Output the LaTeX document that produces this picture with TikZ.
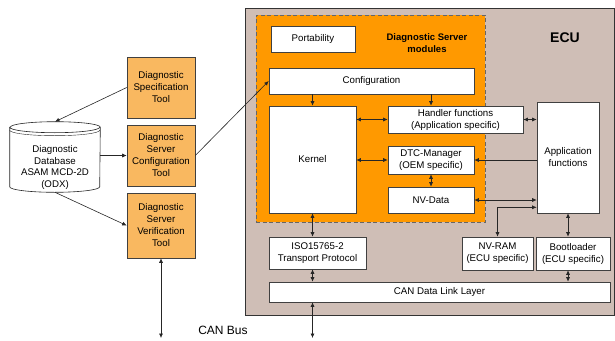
\documentclass[tikz,border=0pt]{standalone}
\usepackage{fontspec}
\setmainfont{Liberation Sans}
\usetikzlibrary{arrows.meta}
\definecolor{ecubrown}{RGB}{207,190,182}
\definecolor{modorange}{RGB}{255,153,0}
\definecolor{toolorange}{RGB}{249,184,96}

\begin{document}
\begin{tikzpicture}[x=1pt,y=-1pt]
  \tikzset{box/.style = {shape=rectangle,draw=black!75,fill=white,line width=0.6pt,inner sep=1pt,align=center,font=\fontsize{9.7}{12}\selectfont}}
  \tikzset{tool/.style = {box,fill=toolorange}}
  \tikzset{edge/.style = {draw=black!85,line width=0.6pt,> = {Latex[length=4.5pt,width=4pt]}}}
  \useasboundingbox (0,0) rectangle (615,340);

  % ECU and module frame
  \node[box,fill=ecubrown,draw=black!80,line width=0.8pt,minimum width=369,minimum height=307] (ECU) at (429.5,161.5) {};
  \node[box,fill=modorange,draw=black!60,dash pattern=on 4pt off 2.5pt,minimum width=229,minimum height=207] (DSM) at (370.5,118.5) {};
  \node[font=\bfseries\fontsize{9.5}{11.5}\selectfont,align=center] (DSML) at (427,43) {Diagnostic Server\\modules};
  \node[font=\bfseries\fontsize{14}{16}\selectfont] (ECUL) at (565,38) {ECU};

	\node[box,minimum width=84,minimum height=26] (PO) at (313,39) {Portability};
	\node[box,minimum width=205,minimum height=26] (CF) at (371.5,81) {Configuration};
	\node[box,minimum width=87,minimum height=107] (KE) at (312.5,159.5) {Kernel};
	\node[box,minimum width=135,minimum height=27] (HF) at (455.5,119.5) {Handler functions\\(Application specific)};
	\node[box,minimum width=86,minimum height=28] (DTC) at (431,160) {DTC-Manager\\(OEM specific)};
	\node[box,minimum width=86,minimum height=26] (NVD) at (431,200) {NV-Data};
	\node[box,minimum width=62,minimum height=111] (AF) at (568,157.5) {Application\\functions};

	\node[box,minimum width=97,minimum height=32] (ISO) at (317.5,253) {ISO15765-2\\Transport Protocol};
	\node[box,minimum width=71,minimum height=33] (RAM) at (497.5,253.5) {NV-RAM\\(ECU specific)};
	\node[box,minimum width=74,minimum height=33] (BL) at (573,253.5) {Bootloader\\(ECU specific)};
	\node[box,minimum width=341,minimum height=20] (CAN) at (439.5,292) {CAN Data Link Layer};

  % tools
	\node[tool,minimum width=68,minimum height=61] (SPT) at (161,87.5) {Diagnostic\\Specification\\Tool};
	\node[tool,minimum width=68,minimum height=61] (SCT) at (161,155.5) {Diagnostic\\Server\\Configuration\\Tool};
	\node[tool,minimum width=68,minimum height=65] (SVT) at (161,225.5) {Diagnostic\\Server\\Verification\\Tool};

  % database
	\node[box,draw=none,fill=none,minimum width=90,minimum height=70] (DB) at (55,157) {};
	\draw[edge,fill=white] ([yshift=-5.5pt]DB.north west) -- ([yshift=5.5pt]DB.south west)
	  arc[start angle=180,end angle=360,x radius=45pt,y radius=5.5pt]
	  -- ([yshift=-5.5pt]DB.north east) arc[start angle=0,end angle=180,x radius=45pt,y radius=5.5pt] -- cycle;
	\draw[edge] ([yshift=-5.5pt]DB.north west) arc[start angle=180,end angle=360,x radius=45pt,y radius=5.5pt];
	\draw[edge,line width=0.4pt] ([yshift=-8.5pt]DB.north west) arc[start angle=180,end angle=360,x radius=45pt,y radius=5.5pt];
	\node[align=center,font=\fontsize{9.7}{11.5}\selectfont] (DBT) at (55,167.5) {Diagnostic\\Database\\ASAM MCD-2D\\(ODX)};

	\node[font=\fontsize{12}{14}\selectfont] (BUS) at (223,330) {CAN Bus};
	\coordinate (busA) at (161,338);
	\coordinate (busB) at (312.5,338);
	\coordinate (ramlink) at ([yshift=6pt]AF.south west);

    \foreach \from/\to in {SPT.west/DB.north, DB.east |- SCT/SCT.west, DB.south/SVT.west, SCT.east/CF.west,
      CF.south -| KE/KE.north, CF.south -| DTC/HF.north -| DTC, AF.west |- DTC/DTC.east}
    \path[edge,->] (\from) -- (\to);

    \foreach \from/\to in {KE.east |- HF/HF.west, KE.east |- DTC/DTC.west, DTC.south/NVD.north,
      HF.east/AF.west |- HF, NVD.east/AF.west |- NVD, AF.south/AF.south |- BL.north,
      KE.south/KE.south |- ISO.north, ISO.south -| KE/CAN.north -| KE, BL.south -| AF/CAN.north -| AF,
      CAN.south -| KE/busB, SVT.south/busA}
    \path[edge,<->] (\from) -- (\to);

    \path[edge,<->] (RAM.north) |- (ramlink);

\end{tikzpicture}
\end{document}
